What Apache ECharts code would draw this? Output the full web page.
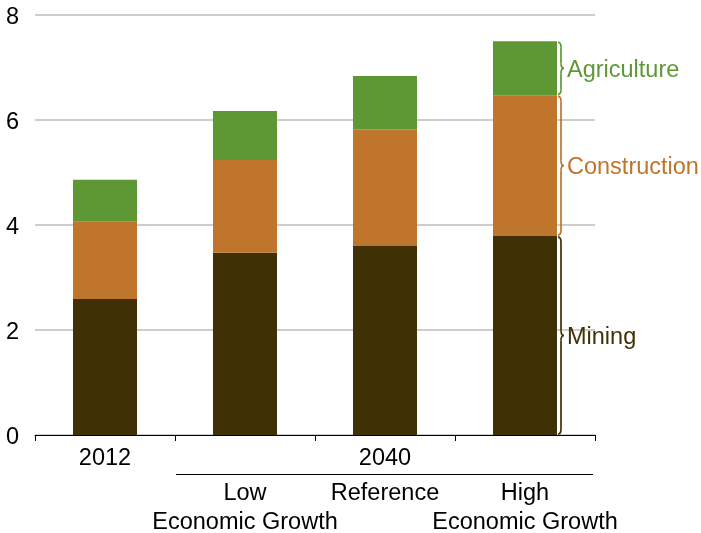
<!DOCTYPE html>
<html>
<head>
<meta charset="utf-8">
<script src="https://cdn.jsdelivr.net/npm/echarts@6/dist/echarts.min.js"></script>
<style>
  html, body { margin: 0; padding: 0; background: #fff; }
  #chart { width: 701px; height: 533px; }
</style>
</head>
<body>
<div id="chart"></div>
<script>
// categories and labels
const categories = ['2012', 'Low Economic Growth', 'Reference', 'High Economic Growth']
const topLabels = ['2012', '', '2040', '']
const bottomLabels = ['', 'Low\nEconomic Growth', 'Reference', 'High\nEconomic Growth']

// series values
const mining = [2.59, 3.47, 3.60, 3.79]
const construction = [1.47, 1.77, 2.22, 2.68]
const agriculture = [0.80, 0.93, 1.02, 1.03]

const yTicks = [0, 2, 4, 6, 8]

const colors = {
  Mining: '#3f3105',
  Construction: '#bf752c',
  Agriculture: '#5e9834'
}

const font = 'Arial, "Liberation Sans", sans-serif'
const fontSize = 23.5

const chart = echarts.init(document.getElementById('chart'))

const option = {
  animation: false,
  grid: { left: 35, right: 106, top: 15, bottom: 98, containLabel: false, outerBoundsMode: 'none' },
  xAxis: [{
    type: 'category',
    data: categories,
    axisLine: { lineStyle: { color: '#000', width: 1 } },
    axisTick: { show: true, length: 6, lineStyle: { color: '#000' } },
    axisLabel: {
      interval: 0,
      margin: 12,
      color: '#000',
      fontFamily: font,
      fontSize: fontSize,
      formatter: (v, i) => topLabels[i]
    }
  }, {
    type: 'category',
    position: 'bottom',
    data: categories,
    axisLine: { show: false },
    axisTick: { show: false },
    axisLabel: {
      interval: 0,
      margin: 44,
      color: '#000',
      fontFamily: font,
      fontSize: fontSize,
      lineHeight: 29,
      verticalAlign: 'top',
      formatter: (v, i) => bottomLabels[i]
    }
  }],
  yAxis: {
    type: 'value',
    min: yTicks[0],
    max: yTicks[yTicks.length - 1],
    interval: 2,
    axisLine: { show: false },
    axisTick: { show: false },
    axisLabel: {
      margin: 16,
      verticalAlign: 'top',
      lineHeight: 6,
      color: '#000',
      fontFamily: font,
      fontSize: fontSize
    },
    splitLine: { lineStyle: { color: '#bdbdbd', width: 1.5 } }
  },
  series: [
    { name: 'Mining', type: 'bar', stack: 'total', data: mining, barWidth: 64, itemStyle: { color: colors.Mining } },
    { name: 'Construction', type: 'bar', stack: 'total', data: construction, barWidth: 64, itemStyle: { color: colors.Construction } },
    { name: 'Agriculture', type: 'bar', stack: 'total', data: agriculture, barWidth: 64, itemStyle: { color: colors.Agriculture } }
  ]
}

chart.setOption(option)

// curly brace made of curves and straight pieces
function braceParts(x0, yTop, yBot, color) {
  const xs = x0 + 3
  const xt = x0 + 6
  const ym = (yTop + yBot) / 2
  const r = 5
  const style = { fill: null, stroke: color, lineWidth: 1.7 }
  return [
    { type: 'bezierCurve', shape: { x1: x0, y1: yTop, cpx1: xs, cpy1: yTop, x2: xs, y2: yTop + r }, style },
    { type: 'line', shape: { x1: xs, y1: yTop + r, x2: xs, y2: ym - r }, style },
    { type: 'bezierCurve', shape: { x1: xs, y1: ym - r, cpx1: xs, cpy1: ym, x2: xt, y2: ym }, style },
    { type: 'bezierCurve', shape: { x1: xt, y1: ym, cpx1: xs, cpy1: ym, x2: xs, y2: ym + r }, style },
    { type: 'line', shape: { x1: xs, y1: ym + r, x2: xs, y2: yBot - r }, style },
    { type: 'bezierCurve', shape: { x1: xs, y1: yBot - r, cpx1: xs, cpy1: yBot, x2: x0, y2: yBot }, style }
  ]
}

function addAnnotations() {
  const last = categories.length - 1
  const xc = chart.convertToPixel({ xAxisIndex: 0 }, categories[last])
  const band = chart.convertToPixel({ xAxisIndex: 0 }, categories[1]) - chart.convertToPixel({ xAxisIndex: 0 }, categories[0])
  const x0 = xc + 32 + 1
  const parts = [
    ['Mining', mining[last]],
    ['Construction', construction[last]],
    ['Agriculture', agriculture[last]]
  ]
  const graphics = []
  let base = 0
  parts.forEach(([name, v]) => {
    const yBot = chart.convertToPixel({ yAxisIndex: 0 }, base) - 1
    const yTop = chart.convertToPixel({ yAxisIndex: 0 }, base + v) + 1
    base += v
    braceParts(x0, yTop, yBot, colors[name]).forEach(g => graphics.push(g))
    graphics.push({
      type: 'text',
      x: x0 + 9,
      y: (yTop + yBot) / 2 + 2,
      style: {
        text: name,
        fill: colors[name],
        font: fontSize + 'px ' + font,
        verticalAlign: 'middle',
        align: 'left'
      }
    })
  })
  // underline grouping the 2040 cases
  const y0 = chart.convertToPixel({ yAxisIndex: 0 }, 0)
  const xStart = chart.convertToPixel({ xAxisIndex: 0 }, categories[1]) - band / 2 + 1
  const xEnd = xc + band / 2 - 2
  graphics.push({
    type: 'line',
    shape: { x1: xStart, y1: y0 + 39.5, x2: xEnd, y2: y0 + 39.5 },
    style: { stroke: '#000', lineWidth: 1 }
  })
  chart.setOption({ graphic: graphics })
}

addAnnotations()
</script>
</body>
</html>
